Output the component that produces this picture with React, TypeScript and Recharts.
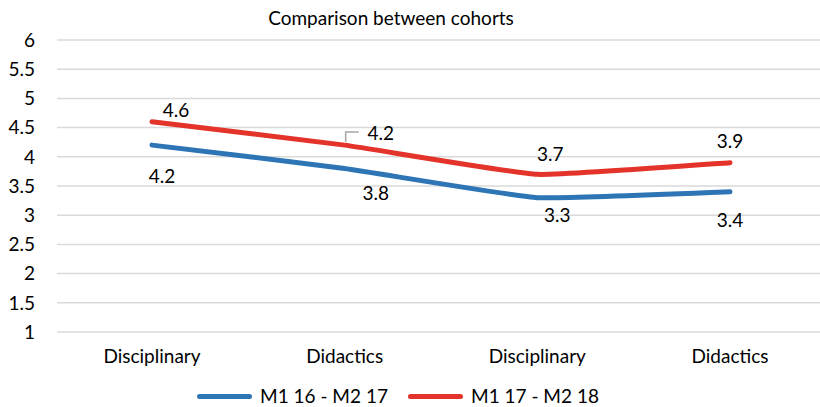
import { LineChart, Line, XAxis, YAxis, CartesianGrid, LabelList } from "recharts";

const categories = ["Disciplinary", "Didactics", "Disciplinary", "Didactics"];
const cohort1 = [4.2, 3.8, 3.3, 3.4];
const cohort2 = [4.6, 4.2, 3.7, 3.9];
const yTicks = [1, 1.5, 2, 2.5, 3, 3.5, 4, 4.5, 5, 5.5, 6];
const seriesNames = ["M1 16 - M2 17", "M1 17 - M2 18"];

const BLUE = "#2E75B6";
const RED = "#E3332A";
const FONT = "Lato, 'Open Sans', sans-serif";
const FS = 19;

// label nudges (dx, dy) per point, like the hand-placed Excel labels
const blueOffsets = [[10, 33], [31, 27], [20, 20], [0, 30]];
const redOffsets = [[24, -10], [36, -10], [13, -18], [0, -19]];

const data = categories.map((c, i) => ({
  name: c,
  a: cohort1[i],
  b: cohort2[i],
}));

// Excel-style smoothing: a tight cardinal spline, recharts accepts a curve factory
const excelCurve = (ctx: any) => {
  let pts: number[][] = [];
  return {
    areaStart() {},
    areaEnd() {},
    lineStart() {
      pts = [];
    },
    point(x: number, y: number) {
      pts.push([+x, +y]);
    },
    lineEnd() {
      if (!pts.length) return;
      ctx.moveTo(pts[0][0], pts[0][1]);
      for (let i = 0; i < pts.length - 1; i++) {
        const p0 = pts[i - 1] || pts[i];
        const p1 = pts[i];
        const p2 = pts[i + 1];
        const p3 = pts[i + 2] || p2;
        const t = 16;
        ctx.bezierCurveTo(
          p1[0] + (p2[0] - p0[0]) / t,
          p1[1] + (p2[1] - p0[1]) / t,
          p2[0] - (p3[0] - p1[0]) / t,
          p2[1] - (p3[1] - p1[1]) / t,
          p2[0],
          p2[1]
        );
      }
    },
  };
};

const makeLabel = (offsets: number[][], leader?: number) => (props: any) => {
  const { x, y, value, index } = props;
  const [dx, dy] = offsets[index];
  return (
    <g>
      {leader === index && (
        <polyline
          points={`${x + 1},${y - 3} ${x + 1},${y - 13} ${x + 14},${y - 13}`}
          fill="none"
          stroke="#A6A6A6"
          strokeWidth={1.5}
        />
      )}
      <text
        x={x + dx}
        y={y + dy}
        textAnchor="middle"
        dominantBaseline="middle"
        fontSize={FS}
        fill="#000"
        fontFamily={FONT}
      >
        {value}
      </text>
    </g>
  );
};

const legendText = {
  position: "absolute" as const,
  top: 0,
  fontFamily: FONT,
  fontSize: FS,
  lineHeight: "22px",
  color: "#000",
  whiteSpace: "nowrap" as const,
};

const LegendRow = () => (
  <div style={{ position: "absolute", top: 385, left: 0, width: 820, height: 22 }}>
    <div style={{ position: "absolute", left: 197, top: 9, width: 55, height: 5, background: BLUE, borderRadius: 3 }} />
    <div style={{ ...legendText, left: 260 }}>{seriesNames[0]}</div>
    <div style={{ position: "absolute", left: 408, top: 9, width: 55, height: 5, background: RED, borderRadius: 3 }} />
    <div style={{ ...legendText, left: 471 }}>{seriesNames[1]}</div>
  </div>
);

export default function App() {
  return (
    <div
      style={{
        position: "absolute",
        left: 0,
        top: 0,
        width: 820,
        height: 407,
        overflow: "hidden",
        background: "#fff",
      }}
    >
      <div
        style={{
          position: "absolute",
          top: 6,
          left: 0,
          width: 782,
          textAlign: "center",
          fontFamily: FONT,
          fontSize: FS,
          color: "#000",
        }}
      >
        Comparison between cohorts
      </div>
      <LineChart
        width={830}
        height={407}
        data={data}
        margin={{ top: 40, right: 2, bottom: 45, left: 0 }}
      >
        <CartesianGrid vertical={false} stroke="#D9D9D9" strokeWidth={1.5} />
        <XAxis
          dataKey="name"
          axisLine={false}
          tickLine={false}
          padding={{ left: 95, right: 98 }}
          tick={{ fontSize: FS, fill: "#000", fontFamily: FONT }}
          dy={10}
        />
        <YAxis
          domain={[1, 6]}
          ticks={yTicks}
          axisLine={false}
          tickLine={false}
          width={57}
          tick={{ fontSize: FS, fill: "#000", fontFamily: FONT }}
          dx={-14}
        />
        <Line
          type={excelCurve as any}
          dataKey="a"
          stroke={BLUE}
          strokeWidth={5}
          strokeLinecap="round"
          strokeLinejoin="round"
          dot={false}
          isAnimationActive={false}
        >
          <LabelList dataKey="a" content={makeLabel(blueOffsets)} />
        </Line>
        <Line
          type={excelCurve as any}
          dataKey="b"
          stroke={RED}
          strokeWidth={5}
          strokeLinecap="round"
          strokeLinejoin="round"
          dot={false}
          isAnimationActive={false}
        >
          <LabelList dataKey="b" content={makeLabel(redOffsets, 1)} />
        </Line>
      </LineChart>
      <LegendRow />
    </div>
  );
}
